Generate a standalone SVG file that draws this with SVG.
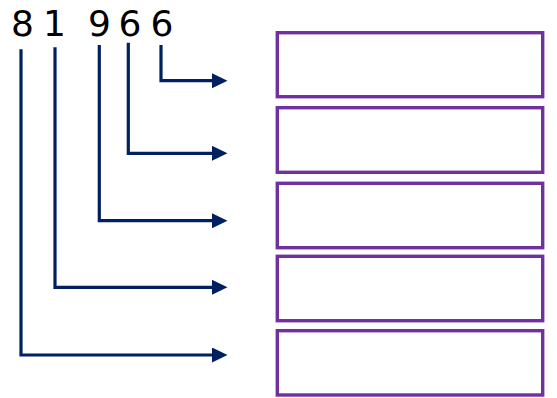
<svg xmlns="http://www.w3.org/2000/svg" width="557" height="398" viewBox="0 0 557 398">
<style>
.digit{font-family:"DejaVu Sans","Verdana",sans-serif;font-size:36px;fill:#000;text-anchor:middle}
.box{fill:#fff;stroke:#7030A0;stroke-width:3.4}
.conn{fill:none;stroke:#002060;stroke-width:3.2}
</style>
<defs>
<marker id="ah" markerUnits="userSpaceOnUse" markerWidth="16" markerHeight="16" refX="0" refY="7.5" orient="auto">
<polygon points="0,0 15.5,7.5 0,15" fill="#002060"/>
</marker>
</defs>
<rect width="557" height="398" fill="#fff"/>
<g id="digits">
<text class="digit" x="22.5" y="36">8</text>
<text class="digit" x="54.5" y="36">1</text>
<text class="digit" x="99.5" y="36">9</text>
<text class="digit" x="130" y="36">6</text>
<text class="digit" x="162" y="36">6</text>
</g>
<g id="box1"><rect class="box" x="277.3" y="32.7" width="265.4" height="64"/></g>
<g id="box2"><rect class="box" x="277.3" y="107.7" width="265.4" height="64.6"/></g>
<g id="box3"><rect class="box" x="277.3" y="183.3" width="265.4" height="64.4"/></g>
<g id="box4"><rect class="box" x="277.3" y="256.3" width="265.4" height="64.4"/></g>
<g id="box5"><rect class="box" x="277.3" y="330.7" width="265.4" height="64.3"/></g>
<g id="connectors">
<path class="conn" d="M161,45 V80.7 H212" marker-end="url(#ah)"/>
<path class="conn" d="M128.3,42.7 V153.3 H212" marker-end="url(#ah)"/>
<path class="conn" d="M99.3,45 V220.7 H212" marker-end="url(#ah)"/>
<path class="conn" d="M55,47.3 V287.3 H212" marker-end="url(#ah)"/>
<path class="conn" d="M21,49.3 V355 H212" marker-end="url(#ah)"/>
</g>
</svg>
